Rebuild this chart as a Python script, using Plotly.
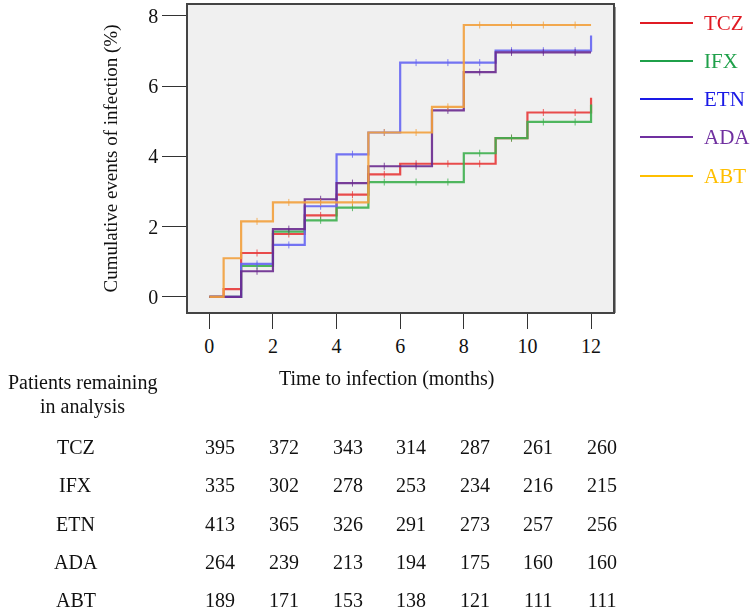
import numpy as np
import plotly.graph_objects as go

# ---- data ----
groups = ["TCZ", "IFX", "ETN", "ADA", "ABT"]

tcz_t = [0, 0.45, 1, 2, 3, 4, 5, 6, 9, 10, 12]
tcz_v = [0, 0.22, 1.25, 1.79, 2.32, 2.91, 3.49, 3.79, 4.52, 5.25, 5.67]

ifx_t = [0, 1, 2, 3, 4, 5, 8, 9, 10, 12]
ifx_v = [0, 0.88, 1.86, 2.18, 2.54, 3.27, 4.09, 4.52, 4.98, 5.48]

etn_t = [0, 1, 2, 3, 4, 5, 6, 9, 12]
etn_v = [0, 0.94, 1.48, 2.58, 4.06, 4.68, 6.67, 7.01, 7.44]

ada_t = [0, 1, 2, 3, 4, 5, 7, 8, 9, 12]
ada_v = [0, 0.73, 1.93, 2.78, 3.24, 3.72, 5.31, 6.40, 6.96, 6.96]

abt_t = [0, 0.45, 1, 2, 5, 7, 8, 12]
abt_v = [0, 1.10, 2.15, 2.69, 4.68, 5.41, 7.74, 7.74]

censor_times = [1.5, 2.5, 3.5, 4.5, 5.5, 6.5, 7.5, 8.5, 9.5, 10.5, 11.5]

table_months = [0, 2, 4, 6, 8, 10, 12]
tcz_n = [395, 372, 343, 314, 287, 261, 260]
ifx_n = [335, 302, 278, 253, 234, 216, 215]
etn_n = [413, 365, 326, 291, 273, 257, 256]
ada_n = [264, 239, 213, 194, 175, 160, 160]
abt_n = [189, 171, 153, 138, 121, 111, 111]

x_ticks = [0, 2, 4, 6, 8, 10, 12]
y_ticks = [0, 2, 4, 6, 8]

# ---- styles ----
line_colors = ["#e83a3a", "#3db04e", "#6565f2", "#6a2a8e", "#f2a03c"]
legend_colors = ["#e01b24", "#1fa04a", "#1a1ae6", "#7030a0", "#ffbf00"]
FONT = "Liberation Serif, Times New Roman, serif"

series = [(tcz_t, tcz_v), (ifx_t, ifx_v), (etn_t, etn_v), (ada_t, ada_v), (abt_t, abt_v)]
counts = [tcz_n, ifx_n, etn_n, ada_n, abt_n]

fig = go.Figure()
for (t, v), col, name in zip(series, line_colors, groups):
    fig.add_trace(go.Scatter(x=t, y=v, mode="lines", line=dict(color=col, width=2.2, shape="hv"),
                             opacity=0.9, name=name, showlegend=False))
    ct = np.array(censor_times)
    idx = np.searchsorted(np.array(t), ct, side="right") - 1
    cv = np.array(v)[idx]
    fig.add_trace(go.Scatter(x=ct, y=cv, mode="markers",
                             marker=dict(symbol="line-ns", size=5, line=dict(color=col, width=1)),
                             opacity=0.8, showlegend=False, hoverinfo="skip"))

W, H = 750, 610
L, R, T, B = 188, 137, 5, 298
pw, ph = W - L - R, H - T - B

def px_x(p):
    return (p - L) / pw

def px_y(p):
    return (H - B - p) / ph

# subtle shadow on the right edge of the plot frame
fig.add_shape(type="line", xref="paper", yref="paper",
              x0=px_x(615), x1=px_x(615), y0=px_y(7), y1=px_y(313),
              line=dict(color="#9a9a9a", width=2), layer="below")

# custom legend
leg_y = [23, 61, 99, 137, 176]
for name, col, yy in zip(groups, legend_colors, leg_y):
    fig.add_shape(type="line", xref="paper", yref="paper",
                  x0=px_x(640), x1=px_x(693), y0=px_y(yy), y1=px_y(yy),
                  line=dict(color=col, width=2))
    fig.add_annotation(xref="paper", yref="paper", x=px_x(702), y=px_y(yy), text=name,
                       showarrow=False, xanchor="left", yanchor="middle",
                       font=dict(family=FONT, size=21, color=col))

# x-axis title
fig.add_annotation(xref="paper", yref="paper", x=px_x(386), y=px_y(378),
                   text="Time to infection (months)", showarrow=False,
                   xanchor="center", yanchor="middle", font=dict(family=FONT, size=20, color="#111"))

# table header
fig.add_annotation(xref="paper", yref="paper", x=px_x(82), y=px_y(382),
                   text="Patients remaining", showarrow=False,
                   xanchor="center", yanchor="middle", font=dict(family=FONT, size=20, color="#111"))
fig.add_annotation(xref="paper", yref="paper", x=px_x(82), y=px_y(406),
                   text="in analysis", showarrow=False,
                   xanchor="center", yanchor="middle", font=dict(family=FONT, size=20, color="#111"))

row_y = [447, 485, 524, 562, 600]
for name, n, yy in zip(groups, counts, row_y):
    fig.add_annotation(xref="paper", yref="paper", x=px_x(76), y=px_y(yy), text=name,
                       showarrow=False, xanchor="center", yanchor="middle",
                       font=dict(family=FONT, size=20, color="#111"))
    for m, val in zip(table_months, n):
        fig.add_annotation(xref="x", yref="paper", x=m, y=px_y(yy), xshift=11, text=str(val),
                           showarrow=False, xanchor="center", yanchor="middle",
                           font=dict(family=FONT, size=20, color="#111"))

fig.update_layout(
    width=W, height=H,
    margin=dict(l=L, r=R, t=T, b=B, autoexpand=False),
    paper_bgcolor="white", plot_bgcolor="#f0f0f0",
    font=dict(family=FONT, size=19, color="#111"),
    showlegend=False,
    xaxis=dict(range=[-0.67, 12.69], tickvals=x_ticks, ticks="outside", ticklen=15, tickwidth=1.3,
               tickcolor="#333", showline=True, linecolor="#444", linewidth=1.5, mirror=True,
               showgrid=False, zeroline=False, tickfont=dict(family=FONT, size=20, color="#111")),
    yaxis=dict(range=[-0.43, 8.31], tickvals=y_ticks, ticks="outside", ticklen=24, tickwidth=1.3,
               tickcolor="#333", showline=True, linecolor="#444", linewidth=1.5, mirror=True,
               showgrid=False, zeroline=False, tickfont=dict(family=FONT, size=20, color="#111"),
               title=dict(text="Cumulative events of infection (%)", font=dict(family=FONT, size=19, color="#111"),
                          standoff=26)),
)

fig.write_html("out.html", config={"displayModeBar": False},
               post_script="document.body.style.margin='0px';")
